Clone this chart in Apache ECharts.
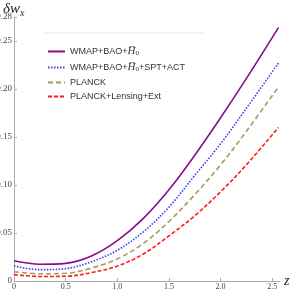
<!DOCTYPE html>
<html><head><meta charset="utf-8">
<script src="https://cdn.jsdelivr.net/npm/echarts@6/dist/echarts.min.js"></script>
<style>html,body{margin:0;padding:0;background:#fff}#c{width:293px;height:290px}</style>
</head><body><div id="c"></div>
<script>
const zValues = [0, 0.25, 0.5, 0.75, 1.0, 1.25, 1.5, 1.75, 2.0, 2.25, 2.56];
const wmapBaoH0 = [0.021, 0.0175, 0.0184, 0.026, 0.042, 0.065, 0.095, 0.131, 0.170, 0.211, 0.264];
const wmapBaoH0SptAct = [0.0156, 0.0118, 0.0129, 0.020, 0.032, 0.051, 0.077, 0.110, 0.143, 0.180, 0.227];
const planck = [0.0097, 0.0075, 0.0080, 0.0135, 0.023, 0.039, 0.062, 0.090, 0.121, 0.156, 0.202];
const planckLensExt = [0.0066, 0.0047, 0.0049, 0.0088, 0.0155, 0.028, 0.047, 0.068, 0.093, 0.121, 0.160];
const seriesNames = ['WMAP+BAO+H0', 'WMAP+BAO+H0+SPT+ACT', 'PLANCK', 'PLANCK+Lensing+Ext'];
const xTicks = ['0', '0.5', '1.0', '1.5', '2.0', '2.5'];

const pairs = arr => zValues.map((z, i) => [z, arr[i]]);
const chart = echarts.init(document.getElementById('c'));
const serif = 'Liberation Serif, Times New Roman, serif';
const legendRich = {
  t: {fontFamily: 'Liberation Sans, Arial', fontSize: 9, color: '#333'},
  h: {fontFamily: serif, fontStyle: 'italic', fontSize: 11, color: '#333'},
  s: {fontFamily: serif, fontSize: 7, color: '#333', verticalAlign: 'bottom', padding: [4, 0, 0, 0]}
};
function legendFmt(n) {
  if (n === seriesNames[0]) return '{t|WMAP+BAO+}{h|H\u0305}{s|0}';
  if (n === seriesNames[1]) return '{t|WMAP+BAO+}{h|H\u0305}{s|0}{t|+SPT+ACT}';
  return '{t|' + n + '}';
}
const mk = (name, arr, color, type, width) => ({
  name, type: 'line', data: pairs(arr), smooth: 0.35, symbol: 'none',
  lineStyle: {color, type, width}, itemStyle: {color}
});
chart.setOption({
  animation: false,
  grid: {left: 14, right: 13, top: 17, bottom: 9, containLabel: false, outerBoundsMode: 'none'},
  xAxis: {
    type: 'value', min: 0, max: 2.575, interval: 0.5,
    name: 'z', nameLocation: 'end', nameGap: 4,
    nameTextStyle: {fontFamily: serif, fontStyle: 'italic', fontSize: 14, color: '#222', verticalAlign: 'middle', padding: [0,0,4,0]},
    axisLine: {lineStyle: {color: '#aaa'}},
    axisTick: {inside: true, length: 3, lineStyle: {color: '#aaa'}},
    axisLabel: {margin: 2, fontFamily: serif, fontSize: 8, color: '#444',
      formatter: v => xTicks[Math.round(v / 0.5)] ?? ''},
    splitLine: {show: false}
  },
  yAxis: {
    type: 'value', min: 0, max: 0.275, interval: 0.05,
    axisLine: {show: true, lineStyle: {color: '#aaa'}},
    axisTick: {show: true, inside: true, length: 3, lineStyle: {color: '#aaa'}},
    axisLabel: {margin: 2, fontFamily: serif, fontSize: 9, color: '#444',
      formatter: v => v === 0 ? '0' : v.toFixed(2)},
    splitLine: {show: false}
  },
  legend: {
    orient: 'vertical', left: 42, top: 41, itemWidth: 17, itemHeight: 8, itemGap: 5,
    data: seriesNames, itemStyle: {opacity: 0},
    formatter: legendFmt, textStyle: {rich: legendRich}
  },
  graphic: [
    {type: 'line', shape: {x1: 43, y1: 33, x2: 205, y2: 33}, style: {stroke: '#e6e6e6', lineWidth: 1}},
    {type: 'text', left: 3, top: 2, style: {text: '{a|δw}{b|x}', rich: {
      a: {fontFamily: serif, fontStyle: 'italic', fontSize: 15, fill: '#222'},
      b: {fontFamily: serif, fontStyle: 'italic', fontSize: 10, fill: '#222', padding: [8, 0, 0, 0]}
    }}}
  ],
  series: [
    mk(seriesNames[0], wmapBaoH0, '#8b0a8b', 'solid', 1.6),
    mk(seriesNames[1], wmapBaoH0SptAct, '#3a3aff', [1.5, 1.5], 1.6),
    mk(seriesNames[2], planck, '#a8985c', [5, 3], 1.6),
    mk(seriesNames[3], planckLensExt, '#ff1a1a', [4, 2], 1.6)
  ]
});
</script></body></html>
